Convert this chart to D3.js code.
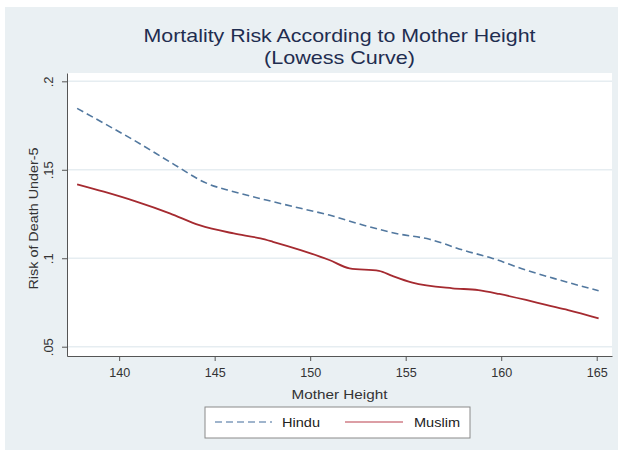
<!DOCTYPE html>
<html>
<head>
<meta charset="utf-8">
<script src="https://cdn.jsdelivr.net/npm/d3@7"></script>
<style>
  html, body { margin: 0; padding: 0; background: #fff; }
  svg { display: block; font-family: "Liberation Sans", Arial, sans-serif; }
</style>
</head>
<body>
<svg id="chart" width="618" height="450"></svg>
<script>
// Lowess-smoothed under-5 mortality risk by mother's height (cm)
const hinduHeight = [137.8, 139.2, 140.9, 142.65, 144.6, 146.0, 147.7, 149.5, 151.0, 152.75, 154.5, 156.25, 158.0, 159.55, 161.3, 163.05, 165.1];
const hinduRisk   = [0.1847, 0.1763, 0.1659, 0.1545, 0.1423, 0.1376, 0.1329, 0.1282, 0.1244, 0.1188, 0.1140, 0.1107, 0.1046, 0.0999, 0.0933, 0.0877, 0.0816];

const muslimHeight = [137.8, 139.2, 140.9, 142.65, 144.2, 146.0, 147.4, 148.05, 149.5, 151.0, 152.06, 153.6, 154.3, 155.35, 157.45, 158.8, 159.9, 161.3, 162.35, 163.5, 165.1];
const muslimRisk   = [0.1418, 0.1376, 0.1320, 0.1254, 0.1187, 0.1140, 0.1112, 0.1093, 0.1046, 0.0990, 0.0943, 0.0929, 0.0900, 0.0862, 0.0830, 0.0820, 0.0798, 0.0764, 0.0736, 0.0707, 0.0660];

const xTicks = [140, 145, 150, 155, 160, 165];
const yTicks = [0.05, 0.1, 0.15, 0.2];
const yTickLabels = [".05", ".1", ".15", ".2"];

const seriesNames = ["Hindu", "Muslim"];

const svg = d3.select("#chart");
const W = 618, H = 450;
const plot = { left: 67, right: 612, top: 73, bottom: 356 };
const FONT = "Liberation Sans, Arial, sans-serif";

// graph region background
svg.append("rect").attr("x", 5).attr("y", 7).attr("width", W - 5).attr("height", H - 7).attr("fill", "#eaf0f3");
// plot region
svg.append("rect").attr("x", plot.left).attr("y", plot.top)
  .attr("width", plot.right - plot.left).attr("height", plot.bottom - plot.top).attr("fill", "#ffffff");

const x = d3.scaleLinear().domain([137.27, 165.8]).range([plot.left, plot.right]);
const y = d3.scaleLinear().domain([0.04474, 0.2047]).range([plot.bottom, plot.top]);

// horizontal grid lines
svg.append("g").selectAll("line").data(yTicks).join("line")
  .attr("x1", plot.left).attr("x2", plot.right)
  .attr("y1", d => y(d)).attr("y2", d => y(d))
  .attr("stroke", "#e6edf1").attr("stroke-width", 1.4);

// lines
const hindu = hinduHeight.map((h, i) => [h, hinduRisk[i]]);
const muslim = muslimHeight.map((h, i) => [h, muslimRisk[i]]);
const line = d3.line().x(d => x(d[0])).y(d => y(d[1])).curve(d3.curveMonotoneX);

svg.append("path").datum(hindu).attr("d", line)
  .attr("fill", "none").attr("stroke", "#52789f").attr("stroke-width", 1.6)
  .attr("stroke-dasharray", "7,4");
svg.append("path").datum(muslim).attr("d", line)
  .attr("fill", "none").attr("stroke", "#a52a30").attr("stroke-width", 1.8);

// x axis
const xAxis = d3.axisBottom(x).tickValues(xTicks).tickSize(5).tickPadding(7).tickSizeOuter(0);
const gx = svg.append("g").attr("transform", `translate(0,${plot.bottom})`).call(xAxis);
gx.select(".domain").attr("stroke", "#555");
gx.selectAll(".tick line").attr("stroke", "#555");
gx.selectAll(".tick text").attr("font-size", 13).attr("fill", "#333").attr("font-family", FONT)
  .attr("textLength", 21).attr("lengthAdjust", "spacingAndGlyphs");

// y axis with vertical tick labels
const yAxis = d3.axisLeft(y).tickValues(yTicks).tickSize(5).tickSizeOuter(0).tickFormat((d, i) => yTickLabels[i]);
const gy = svg.append("g").attr("transform", `translate(${plot.left},0)`).call(yAxis);
gy.select(".domain").attr("stroke", "#555");
gy.selectAll(".tick line").attr("stroke", "#555");
gy.selectAll(".tick text")
  .attr("font-size", 13).attr("fill", "#333").attr("font-family", FONT)
  .attr("x", null).attr("dy", null)
  .attr("text-anchor", "middle").attr("dominant-baseline", "central")
  .attr("transform", "translate(-19,0) rotate(-90)");

// axis titles
svg.append("text").attr("x", (plot.left + plot.right) / 2).attr("y", 399)
  .attr("text-anchor", "middle").attr("font-size", 13.5).attr("fill", "#333")
  .attr("textLength", 96).attr("lengthAdjust", "spacingAndGlyphs")
  .text("Mother Height");
svg.append("text")
  .attr("transform", `translate(33,${(plot.top + plot.bottom) / 2 + 4}) rotate(-90)`)
  .attr("text-anchor", "middle").attr("dominant-baseline", "central")
  .attr("font-size", 13.5).attr("fill", "#333")
  .attr("textLength", 142).attr("lengthAdjust", "spacingAndGlyphs")
  .text("Risk of Death Under-5");

// title
const cx = (plot.left + plot.right) / 2;
svg.append("text").attr("x", cx).attr("y", 42).attr("text-anchor", "middle")
  .attr("font-size", 18.5).attr("fill", "#1f2d50")
  .attr("textLength", 392).attr("lengthAdjust", "spacingAndGlyphs")
  .text("Mortality Risk According to Mother Height");
svg.append("text").attr("x", cx).attr("y", 64).attr("text-anchor", "middle")
  .attr("font-size", 18.5).attr("fill", "#1f2d50")
  .attr("textLength", 151).attr("lengthAdjust", "spacingAndGlyphs")
  .text("(Lowess Curve)");

// legend
const lg = svg.append("g");
lg.append("rect").attr("x", 205).attr("y", 407).attr("width", 265).attr("height", 31)
  .attr("fill", "#fff").attr("stroke", "#8a8a8a").attr("stroke-width", 1);
const legendItems = [
  { name: seriesNames[0], x0: 215, x1: 272, tx: 282, len: 38, color: "#9fb4cc", dash: "7,4" },
  { name: seriesNames[1], x0: 345, x1: 403, tx: 414, len: 46, color: "#dc9ea5", dash: null }
];
legendItems.forEach(it => {
  lg.append("line").attr("x1", it.x0).attr("x2", it.x1).attr("y1", 422).attr("y2", 422)
    .attr("stroke", it.color).attr("stroke-width", 1.8).attr("stroke-dasharray", it.dash);
  lg.append("text").attr("x", it.tx).attr("y", 427).attr("font-size", 13.5).attr("fill", "#222")
    .attr("textLength", it.len).attr("lengthAdjust", "spacingAndGlyphs").text(it.name);
});
</script>
</body>
</html>
